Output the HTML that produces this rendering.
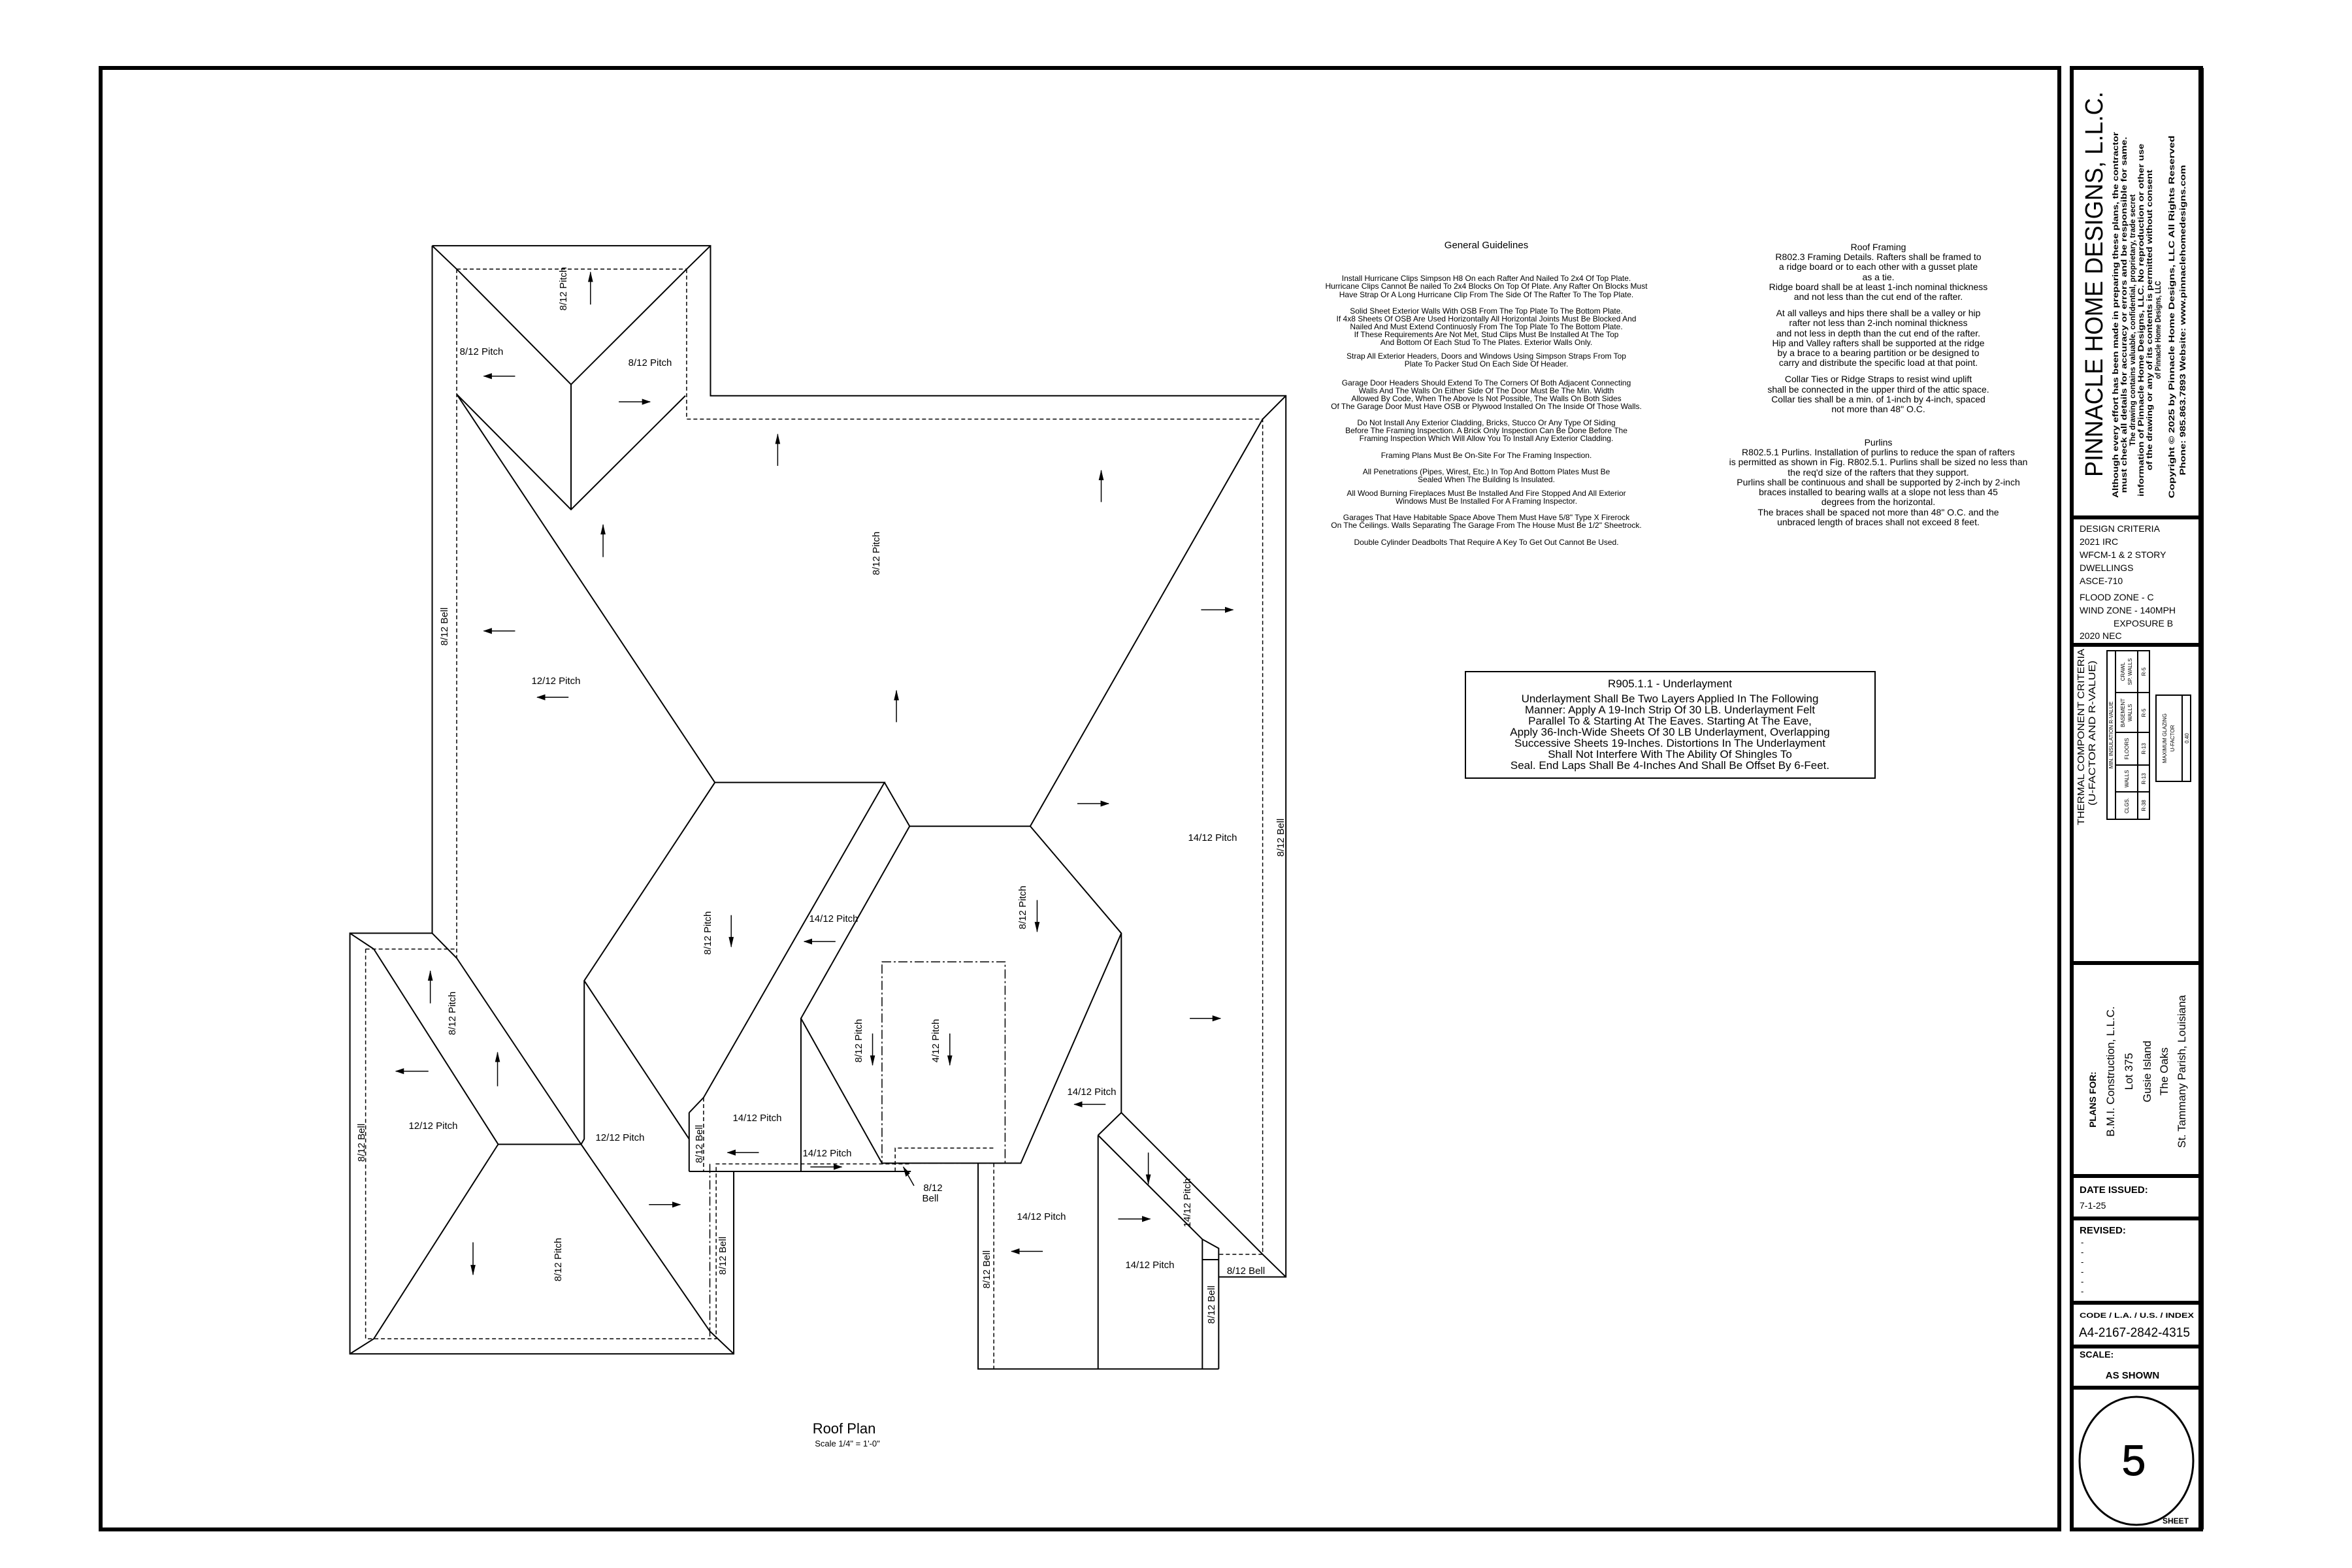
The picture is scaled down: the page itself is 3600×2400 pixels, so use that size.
<!DOCTYPE html>
<html><head><meta charset="utf-8"><style>
html,body{margin:0;padding:0;background:#fff;}
svg{display:block;}
.r *{vector-effect:non-scaling-stroke;}
text{font-family:"Liberation Sans",sans-serif;fill:#000;}
.lb{font-size:15px;}
.gg{font-family:"Liberation Sans Narrow","Liberation Sans",sans-serif;font-size:12px;text-anchor:middle;}
.rf{font-size:14px;text-anchor:middle;}
.ul{font-size:17px;text-anchor:middle;}
.tb{font-size:14px;}
</style></head><body>
<svg xmlns="http://www.w3.org/2000/svg" width="3600" height="2400" viewBox="0 0 3600 2400">
<defs>
<marker id="ah" markerWidth="14" markerHeight="10" refX="13" refY="5" orient="auto" markerUnits="userSpaceOnUse">
<path d="M0,1 L14,5 L0,9 Z" fill="#000"/></marker>
</defs>
<rect x="154" y="104" width="2998" height="2237" fill="none" stroke="#000" stroke-width="6"/>
<rect x="3171" y="104" width="198" height="2237" fill="none" stroke="#000" stroke-width="6"/>
<rect x="3365" y="104" width="8" height="2237" fill="#000"/>
<g stroke="#000" stroke-width="6">
<line x1="3171" y1="792" x2="3369" y2="792"/>
<line x1="3171" y1="987" x2="3369" y2="987"/>
<line x1="3171" y1="1474" x2="3369" y2="1474"/>
<line x1="3171" y1="1800" x2="3369" y2="1800"/>
<line x1="3171" y1="1865" x2="3369" y2="1865"/>
<line x1="3171" y1="1994" x2="3369" y2="1994"/>
<line x1="3171" y1="2061" x2="3369" y2="2061"/>
<line x1="3171" y1="2124" x2="3369" y2="2124"/>
</g>
<text transform="rotate(-90 3218 435)" x="3218" y="435" text-anchor="middle" font-size="38" textLength="590" lengthAdjust="spacingAndGlyphs">PINNACLE HOME DESIGNS, L.L.C.</text>
<g font-size="12" font-weight="bold" text-anchor="middle">
<text transform="rotate(-90 3242 482)" x="3242" y="482" textLength="560" lengthAdjust="spacingAndGlyphs">Although every effort has been made in preparing these plans, the contractor</text>
<text transform="rotate(-90 3255 482)" x="3255" y="482" textLength="545" lengthAdjust="spacingAndGlyphs">must check all details for accuracy or errors and be responsible for same.</text>
<text transform="rotate(-90 3268 490)" x="3268" y="490" textLength="385" lengthAdjust="spacingAndGlyphs">The drawing contains valuable, confidential, proprietary, trade secret</text>
<text transform="rotate(-90 3281 490)" x="3281" y="490" textLength="540" lengthAdjust="spacingAndGlyphs">information of Pinnacle Home Designs, LLC. No reproduction or other use</text>
<text transform="rotate(-90 3294 490)" x="3294" y="490" textLength="460" lengthAdjust="spacingAndGlyphs">of the drawing or any of its contents is permitted without consent</text>
<text transform="rotate(-90 3307 505)" x="3307" y="505" textLength="150" lengthAdjust="spacingAndGlyphs">of Pinnacle Home Designs, LLC</text>
<text transform="rotate(-90 3328 485)" x="3328" y="485" textLength="555" lengthAdjust="spacingAndGlyphs">Copyright © 2025 by Pinnacle Home Designs, LLC All Rights Reserved</text>
<text transform="rotate(-90 3345 490)" x="3345" y="490" textLength="475" lengthAdjust="spacingAndGlyphs">Phone: 985.863.7893 Website: www.pinnaclehomedesigns.com</text>
</g>
<g class="tb">
<text x="3183" y="814">DESIGN CRITERIA</text>
<text x="3183" y="834">2021 IRC</text>
<text x="3183" y="854">WFCM-1 &amp; 2 STORY</text>
<text x="3183" y="874">DWELLINGS</text>
<text x="3183" y="894">ASCE-710</text>
<text x="3183" y="919">FLOOD ZONE - C</text>
<text x="3183" y="939">WIND ZONE - 140MPH</text>
<text x="3235" y="959">EXPOSURE B</text>
<text x="3183" y="978">2020 NEC</text>
</g>
<text transform="rotate(-90 3190 1128)" x="3190" y="1128" text-anchor="middle" font-size="15" textLength="270" lengthAdjust="spacingAndGlyphs">THERMAL COMPONENT CRITERIA</text>
<text transform="rotate(-90 3207 1122)" x="3207" y="1122" text-anchor="middle" font-size="15" textLength="222" lengthAdjust="spacingAndGlyphs">(U-FACTOR AND R-VALUE)</text>
<g fill="none" stroke="#000" stroke-width="2">
<rect x="3225" y="996" width="65" height="258"/>
<line x1="3238" y1="996" x2="3238" y2="1254"/>
<line x1="3272" y1="996" x2="3272" y2="1254"/>
<line x1="3238" y1="1060" x2="3290" y2="1060"/>
<line x1="3238" y1="1121" x2="3290" y2="1121"/>
<line x1="3238" y1="1171" x2="3290" y2="1171"/>
<line x1="3238" y1="1212" x2="3290" y2="1212"/>
<rect x="3300" y="1064" width="53" height="132"/>
<line x1="3340" y1="1064" x2="3340" y2="1196"/>
</g>
<g font-size="8" text-anchor="middle">
<text transform="rotate(-90 3234 1125)" x="3234" y="1125">MIN. INSULATION R-VALUE</text>
<text transform="rotate(-90 3258 1233)" x="3258" y="1233">CLGS.</text>
<text transform="rotate(-90 3258 1192)" x="3258" y="1192">WALLS</text>
<text transform="rotate(-90 3258 1146)" x="3258" y="1146">FLOORS</text>
<text transform="rotate(-90 3252 1091)" x="3252" y="1091">BASEMENT</text>
<text transform="rotate(-90 3263 1091)" x="3263" y="1091">WALLS</text>
<text transform="rotate(-90 3252 1028)" x="3252" y="1028">CRAWL</text>
<text transform="rotate(-90 3263 1028)" x="3263" y="1028">SP. WALLS</text>
<text transform="rotate(-90 3284 1233)" x="3284" y="1233">R-38</text>
<text transform="rotate(-90 3284 1192)" x="3284" y="1192">R-13</text>
<text transform="rotate(-90 3284 1146)" x="3284" y="1146">R-13</text>
<text transform="rotate(-90 3284 1091)" x="3284" y="1091">R-5</text>
<text transform="rotate(-90 3284 1028)" x="3284" y="1028">R-5</text>
<text transform="rotate(-90 3316 1130)" x="3316" y="1130">MAXIMUM GLAZING</text>
<text transform="rotate(-90 3328 1130)" x="3328" y="1130">U-FACTOR</text>
<text transform="rotate(-90 3350 1130)" x="3350" y="1130">0.40</text>
</g>
<g text-anchor="middle" font-size="17">
<text transform="rotate(-90 3208 1683)" x="3208" y="1683" font-weight="bold" font-size="14">PLANS FOR:</text>
<text transform="rotate(-90 3236 1640)" x="3236" y="1640">B.M.I. Construction, L.L.C.</text>
<text transform="rotate(-90 3264 1640)" x="3264" y="1640">Lot 375</text>
<text transform="rotate(-90 3292 1640)" x="3292" y="1640">Gusie Island</text>
<text transform="rotate(-90 3318 1640)" x="3318" y="1640">The Oaks</text>
<text transform="rotate(-90 3345 1640)" x="3345" y="1640">St. Tammany Parish, Louisiana</text>
</g>
<text x="3183" y="1826" font-size="15" font-weight="bold">DATE ISSUED:</text>
<text x="3183" y="1850" font-size="14">7-1-25</text>
<text x="3183" y="1888" font-size="15" font-weight="bold">REVISED:</text>
<g font-size="13"><text x="3185" y="1906">-</text><text x="3185" y="1921">-</text><text x="3185" y="1936">-</text><text x="3185" y="1951">-</text><text x="3185" y="1966">-</text><text x="3185" y="1981">-</text></g>
<text x="3183" y="2017" font-size="11" font-weight="bold" textLength="175" lengthAdjust="spacingAndGlyphs">CODE / L.A. / U.S. / INDEX</text>
<text x="3182" y="2046" font-size="20" textLength="170" lengthAdjust="spacingAndGlyphs">A4-2167-2842-4315</text>
<text x="3183" y="2078" font-size="14" font-weight="bold">SCALE:</text>
<text x="3264" y="2110" font-size="15" font-weight="bold" text-anchor="middle">AS SHOWN</text>
<ellipse cx="3270" cy="2236" rx="87" ry="98" fill="none" stroke="#000" stroke-width="3"/>
<text x="3266" y="2258" font-size="66" text-anchor="middle" fill="none" stroke="#000" stroke-width="1">5</text>
<text x="3330" y="2332" font-size="12" font-weight="bold" text-anchor="middle">SHEET</text>

<text x="2275" y="380" font-size="15" text-anchor="middle">General Guidelines</text>
<g class="gg">
<text x="2275" y="430">Install Hurricane Clips Simpson H8 On each Rafter And Nailed To 2x4 Of Top Plate.</text>
<text x="2275" y="442">Hurricane Clips Cannot Be nailed To 2x4 Blocks On Top Of Plate. Any Rafter On Blocks Must</text>
<text x="2275" y="455">Have Strap Or A Long Hurricane Clip From The Side Of The Rafter To The Top Plate.</text>
<text x="2275" y="480">Solid Sheet Exterior Walls With OSB From The Top Plate To The Bottom Plate.</text>
<text x="2275" y="492">If 4x8 Sheets Of OSB Are Used Horizontally All Horizontal Joints Must Be Blocked And</text>
<text x="2275" y="504">Nailed And Must Extend Continuosly From The Top Plate To The Bottom Plate.</text>
<text x="2275" y="516">If These Requirements Are Not Met, Stud Clips Must Be Installed At The Top</text>
<text x="2275" y="528">And Bottom Of Each Stud To The Plates. Exterior Walls Only.</text>
<text x="2275" y="549">Strap All Exterior Headers, Doors and Windows Using Simpson Straps From Top</text>
<text x="2275" y="561">Plate To Packer Stud On Each Side Of Header.</text>
<text x="2275" y="590">Garage Door Headers Should Extend To The Corners Of Both Adjacent Connecting</text>
<text x="2275" y="602">Walls And The Walls On Either Side Of The Door Must Be The Min. Width</text>
<text x="2275" y="614">Allowed By Code, When The Above Is Not Possible, The Walls On Both Sides</text>
<text x="2275" y="626">Of The Garage Door Must Have OSB or Plywood Installed On The Inside Of Those Walls.</text>
<text x="2275" y="651">Do Not Install Any Exterior Cladding, Bricks, Stucco Or Any Type Of Siding</text>
<text x="2275" y="663">Before The Framing Inspection. A Brick Only Inspection Can Be Done Before The</text>
<text x="2275" y="675">Framing Inspection Which Will Allow You To Install Any Exterior Cladding.</text>
<text x="2275" y="701">Framing Plans Must Be On-Site For The Framing Inspection.</text>
<text x="2275" y="726">All Penetrations (Pipes, Wirest, Etc.) In Top And Bottom Plates Must Be</text>
<text x="2275" y="738">Sealed When The Building Is Insulated.</text>
<text x="2275" y="759">All Wood Burning Fireplaces Must Be Installed And Fire Stopped And All Exterior</text>
<text x="2275" y="771">Windows Must Be Installed For A Framing Inspector.</text>
<text x="2275" y="796">Garages That Have Habitable Space Above Them Must Have 5/8" Type X Firerock</text>
<text x="2275" y="808">On The Ceilings. Walls Separating The Garage From The House Must Be 1/2" Sheetrock.</text>
<text x="2275" y="834">Double Cylinder Deadbolts That Require A Key To Get Out Cannot Be Used.</text>
</g>
<g class="rf">
<text x="2875" y="383">Roof Framing</text>
<text x="2875" y="398">R802.3 Framing Details. Rafters shall be framed to</text>
<text x="2875" y="413">a ridge board or to each other with a gusset plate</text>
<text x="2875" y="429">as a tie.</text>
<text x="2875" y="444">Ridge board shall be at least 1-inch nominal thickness</text>
<text x="2875" y="459">and not less than the cut end of the rafter.</text>
<text x="2875" y="484">At all valleys and hips there shall be a valley or hip</text>
<text x="2875" y="499">rafter not less than 2-inch nominal thickness</text>
<text x="2875" y="515">and not less in depth than the cut end of the rafter.</text>
<text x="2875" y="530">Hip and Valley rafters shall be supported at the ridge</text>
<text x="2875" y="545">by a brace to a bearing partition or be designed to</text>
<text x="2875" y="560">carry and distribute the specific load at that point.</text>
<text x="2875" y="585">Collar Ties or Ridge Straps to resist wind uplift</text>
<text x="2875" y="601">shall be connected in the upper third of the attic space.</text>
<text x="2875" y="616">Collar ties shall be a min. of 1-inch by 4-inch, spaced</text>
<text x="2875" y="631">not more than 48" O.C.</text>
<text x="2875" y="682">Purlins</text>
<text x="2875" y="697">R802.5.1 Purlins. Installation of purlins to reduce the span of rafters</text>
<text x="2875" y="712">is permitted as shown in Fig. R802.5.1. Purlins shall be sized no less than</text>
<text x="2875" y="728">the req'd size of the rafters that they support.</text>
<text x="2875" y="743">Purlins shall be continuous and shall be supported by 2-inch by 2-inch</text>
<text x="2875" y="758">braces installed to bearing walls at a slope not less than 45</text>
<text x="2875" y="773">degrees from the horizontal.</text>
<text x="2875" y="789">The braces shall be spaced not more than 48" O.C. and the</text>
<text x="2875" y="804">unbraced length of braces shall not exceed 8 feet.</text>
</g>
<rect x="2243" y="1028" width="627" height="163" fill="none" stroke="#000" stroke-width="2"/>
<g class="ul">
<text x="2556" y="1052">R905.1.1 - Underlayment</text>
<text x="2556" y="1075">Underlayment Shall Be Two Layers Applied In The Following</text>
<text x="2556" y="1092">Manner: Apply A 19-Inch Strip Of 30 LB. Underlayment Felt</text>
<text x="2556" y="1109">Parallel To &amp; Starting At The Eaves.  Starting At The Eave,</text>
<text x="2556" y="1126">Apply 36-Inch-Wide Sheets Of 30 LB Underlayment, Overlapping</text>
<text x="2556" y="1143">Successive Sheets 19-Inches.  Distortions In The Underlayment</text>
<text x="2556" y="1160">Shall Not Interfere With The Ability Of Shingles To</text>
<text x="2556" y="1177">Seal.  End Laps Shall Be 4-Inches And Shall Be Offset By 6-Feet.</text>
</g>
<text x="1292" y="2194" font-size="22" text-anchor="middle">Roof Plan</text>
<text x="1297" y="2214" font-size="13" text-anchor="middle">Scale 1/4" = 1'-0"</text>

<g class="r" transform="translate(500 330) scale(0.9615 1.1538)" fill="none" stroke="#000" stroke-width="2">
<path d="M168,40 L611,40 L611,239 L1527,239 L1527,1408 L1420,1408"/>
<path d="M168,40 L168,952 L37,952 L37,1510 L648,1510 L648,1268"/>
<path d="M577,1268 L930,1268"/>
<path d="M577,1190 L577,1268 M577,1190 L600,1170 L888,752 L618,752 L410,1015 L410,1225 L405,1232 L273,1232"/>
<path d="M888,752 L928,810 L1120,810 L1265,952 L1265,1190"/>
<path d="M928,810 L755,1065 L755,1268 M755,1065 L884,1257 M410,1015 L577,1225"/>
<path d="M884,1257 L1105,1257 L1265,952"/>
<path d="M1037,1257 L1037,1530 L1420,1530"/>
<path d="M1228,1220 L1228,1530 M1228,1220 L1265,1190 L1490,1378 L1527,1408"/>
<path d="M1228,1220 L1394,1358 L1420,1370 L1420,1530 M1394,1358 L1394,1530 M1394,1385 L1420,1385"/>
<path d="M207,71 L389,224 L573,71 M389,224 L389,390 M207,237 L389,390 L571,239"/>
<path d="M168,40 L207,71 M611,40 L573,71 M207,237 L618,752"/>
<path d="M1120,810 L1490,270 L1527,239"/>
<path d="M37,952 L75,973 L273,1232 L75,1490 L37,1510"/>
<path d="M168,952 L207,985 L405,1232 L610,1480 L648,1510"/>
<g stroke-dasharray="6 4" stroke-width="1.5">
<path d="M207,71 L573,71 M207,71 L207,985 M573,71 L573,270 L1490,270 L1490,1378 L1420,1378"/>
<path d="M62,973 L207,973 M62,973 L62,1490 L620,1490 L620,1258 L930,1258"/>
<path d="M600,1170 L600,1268 M1062,1257 L1062,1530"/>
<path d="M905,1268 L905,1237 L1062,1237"/>
</g>
<g stroke-dasharray="14 4 3 4" stroke-width="1.5">
<rect x="884" y="990" width="196" height="267"/>
<path d="M610,1258 L610,1490"/>
</g>
<g stroke-width="1.5" marker-end="url(#ah)">
<path d="M420,118 L420,75"/><path d="M300,213 L250,213"/><path d="M465,247 L515,247"/>
<path d="M718,332 L718,290"/><path d="M1233,380 L1233,338"/><path d="M440,453 L440,410"/>
<path d="M300,551 L250,551"/><path d="M385,639 L335,639"/><path d="M1392,523 L1443,523"/>
<path d="M907,672 L907,630"/><path d="M1195,780 L1245,780"/><path d="M644,928 L644,970"/>
<path d="M810,963 L760,963"/><path d="M1131,908 L1131,950"/><path d="M165,1045 L165,1002"/>
<path d="M1374,1065 L1423,1065"/><path d="M162,1135 L110,1135"/><path d="M272,1155 L272,1110"/>
<path d="M869,1085 L869,1127"/><path d="M992,1085 L992,1127"/><path d="M1240,1179 L1190,1179"/>
<path d="M688,1243 L638,1243"/><path d="M770,1262 L820,1262"/><path d="M513,1312 L563,1312"/>
<path d="M1308,1243 L1308,1285"/><path d="M1260,1331 L1311,1331"/><path d="M1140,1374 L1090,1374"/>
<path d="M233,1362 L233,1405"/><path d="M935,1287 L918,1262"/>
</g>
</g>
<g class="lb" text-anchor="middle">
<text transform="rotate(-90 867 442)" x="867" y="442">8/12 Pitch</text>
<text x="737" y="543">8/12 Pitch</text>
<text x="995" y="560">8/12 Pitch</text>
<text transform="rotate(-90 1346 847)" x="1346" y="847">8/12 Pitch</text>
<text transform="rotate(-90 685 959)" x="685" y="959">8/12 Bell</text>
<text x="851" y="1047">12/12 Pitch</text>
<text x="1856" y="1287">14/12 Pitch</text>
<text transform="rotate(-90 1965 1282)" x="1965" y="1282">8/12 Bell</text>
<text transform="rotate(-90 1088 1428)" x="1088" y="1428">8/12 Pitch</text>
<text x="1276" y="1411">14/12 Pitch</text>
<text transform="rotate(-90 1570 1389)" x="1570" y="1389">8/12 Pitch</text>
<text transform="rotate(-90 697 1551)" x="697" y="1551">8/12 Pitch</text>
<text transform="rotate(-90 1319 1593)" x="1319" y="1593">8/12 Pitch</text>
<text transform="rotate(-90 1437 1593)" x="1437" y="1593">4/12 Pitch</text>
<text x="1671" y="1676">14/12 Pitch</text>
<text x="663" y="1728">12/12 Pitch</text>
<text x="949" y="1746">12/12 Pitch</text>
<text x="1159" y="1716">14/12 Pitch</text>
<text transform="rotate(-90 1075 1751)" x="1075" y="1751">8/12 Bell</text>
<text x="1266" y="1770">14/12 Pitch</text>
<text x="1428" y="1823">8/12</text>
<text x="1424" y="1839">Bell</text>
<text transform="rotate(-90 558 1749)" x="558" y="1749">8/12 Bell</text>
<text transform="rotate(-90 859 1928)" x="859" y="1928">8/12 Pitch</text>
<text transform="rotate(-90 1111 1922)" x="1111" y="1922">8/12 Bell</text>
<text x="1594" y="1867">14/12 Pitch</text>
<text transform="rotate(-90 1822 1841)" x="1822" y="1841">14/12 Pitch</text>
<text transform="rotate(-90 1515 1943)" x="1515" y="1943">8/12 Bell</text>
<text x="1760" y="1941">14/12 Pitch</text>
<text x="1907" y="1950">8/12 Bell</text>
<text transform="rotate(-90 1859 1997)" x="1859" y="1997">8/12 Bell</text>
</g>
</svg>
</body></html>
